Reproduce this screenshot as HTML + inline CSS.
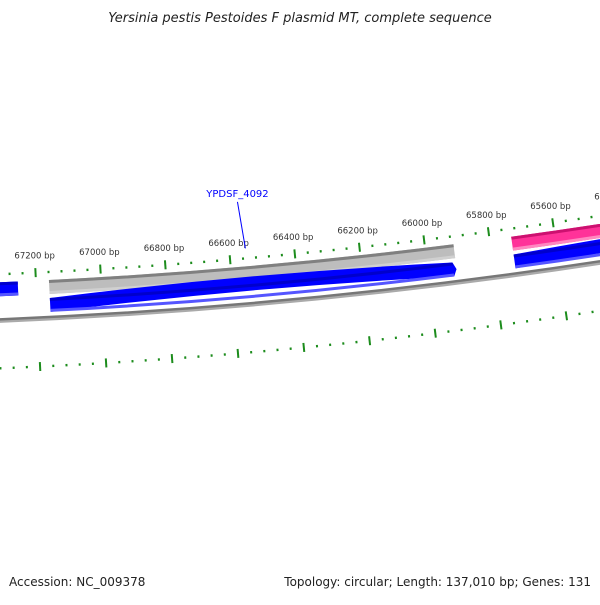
<!DOCTYPE html>
<html><head><meta charset="utf-8"><style>
body{margin:0;background:#fff;width:600px;height:600px;overflow:hidden;font-family:"Liberation Sans",sans-serif}
</style></head><body>
<svg id="map" width="600" height="600" viewBox="0 0 600 600" xmlns="http://www.w3.org/2000/svg">
<text x="300" y="22" text-anchor="middle" font-size="13" font-style="italic" fill="#222" font-family="DejaVu Sans, sans-serif">Yersinia pestis Pestoides F plasmid MT, complete sequence</text>
<g id="plot"></g>
<text x="9" y="586" font-size="12" fill="#222" font-family="DejaVu Sans, sans-serif">Accession: NC_009378</text>
<text x="591" y="586" text-anchor="end" font-size="12" fill="#222" font-family="DejaVu Sans, sans-serif">Topology: circular; Length: 137,010 bp; Genes: 131</text>
</svg>
<script>
const tickStart = 65200;
const tickEnd = 67600;
const tickStep = 40;
const majorStep = 200;
const featStarts = [67256, 65912, 65912, 64900, 64900];
const featEnds = [68400, 67160, 67160, 65733, 65733];
const featStrands = [1, 1, -1, 1, -1];
const featColors = ['blue', 'gray', 'blue', 'pink', 'blue'];
const featNames = ['feature-left-forward', 'feature-gray-forward', 'ypdsf-4092-gene', 'feature-pink-forward', 'feature-right-reverse'];
const calloutBp = 66550;
const calloutText = 'YPDSF_4092';

const NS = 'http://www.w3.org/2000/svg';
const plot = document.getElementById('plot');
const CX = -228, CY = -5171, R = 5450;
const K = 5.963e-5, TH0 = 0.08415, BP0 = 66600;
function ang(bp){ return TH0 - (bp - BP0) * K; }
function pt(bp, r){ const t = ang(bp); return [CX + r*Math.sin(t), CY + r*Math.cos(t)]; }
function mk(tag, attrs){ const e = document.createElementNS(NS, tag); for (const k in attrs) e.setAttribute(k, attrs[k]); plot.appendChild(e); return e; }
function band(b1, b2, r1, r2){
  const p1 = pt(b1, r1), p2 = pt(b2, r1), p3 = pt(b2, r2), p4 = pt(b1, r2);
  return `M${p1[0]},${p1[1]} A${r1},${r1} 0 0 0 ${p2[0]},${p2[1]} L${p3[0]},${p3[1]} A${r2},${r2} 0 0 1 ${p4[0]},${p4[1]} Z`;
}
function arc(b1, b2, r){ const p1 = pt(b1, r), p2 = pt(b2, r); return `M${p1[0]},${p1[1]} A${r},${r} 0 0 0 ${p2[0]},${p2[1]}`; }

// backbone
let bb = mk('path', {d: arc(68400, 64800, R+47), stroke: '#aaa', 'stroke-width': 3, fill: 'none'});


bb = mk('path', {d: arc(68400, 64800, R+45), stroke: '#777', 'stroke-width': 2.5, fill: 'none'});



const pal = {blue: ['#0000cc', '#0000ff', '#5555ff'], gray: ['#808080', '#bdbdbd', '#d0d0d0'], pink: ['#cc1170', '#ff3399', '#ff88c0']};
for (let i = 0; i < featStarts.length; i++){
  const r1 = featStrands[i] > 0 ? R+8 : R+26;
  const r2 = r1 + 14;
  const c = pal[featColors[i]];
  const g = mk('g', {});
  
  
  let s = featStarts[i], e = featEnds[i];
  let p;
  if (featStrands[i] < 0){
    // arrow at low-bp end (right side)
    const tip = pt(s, r1 + 7), a1 = pt(s + 10, r1), a2 = pt(s + 10, r2);
    const q1 = pt(s+10, r1), q2 = pt(e, r1), q3 = pt(e, r2), q4 = pt(s+10, r2);
    p = `M${q2[0]},${q2[1]} A${r1},${r1} 0 0 1 ${q1[0]},${q1[1]} L${tip[0]},${tip[1]} L${q4[0]},${q4[1]} A${r2},${r2} 0 0 0 ${q3[0]},${q3[1]} Z`;
  } else {
    p = band(e, s, r1, r2);
  }
  const main = document.createElementNS(NS, 'path');
  main.setAttribute('d', p); main.setAttribute('fill', c[1]);
  g.appendChild(main);
  plot.appendChild(g);
  const top = document.createElementNS(NS, 'path');
  top.setAttribute('d', arc(e, Math.max(s, s + (featStrands[i] < 0 ? 10 : 0)), r1 + 1.5));
  top.setAttribute('stroke', c[0]); top.setAttribute('stroke-width', 3); top.setAttribute('fill', 'none');
  g.appendChild(top);
  const bot = document.createElementNS(NS, 'path');
  bot.setAttribute('d', arc(e, s + (featStrands[i] < 0 ? 10 : 0), r2 - 1.5));
  bot.setAttribute('stroke', c[2]); bot.setAttribute('stroke-width', 3); bot.setAttribute('fill', 'none');
  g.appendChild(bot);
}

// ticks: inner ring (with labels) and outer ring
for (let bp = tickStart; bp <= tickEnd; bp += tickStep){
  const major = bp % majorStep === 0;
  const h = major ? 4.5 : 1.2;
  for (const rr of [R, R + 94]){
    const a = pt(bp, rr - h), b = pt(bp, rr + h);
    const t = mk('line', {x1: a[0], y1: a[1], x2: b[0], y2: b[1], stroke: '#1c8c1c', 'stroke-width': 2});
    
    
  }
  if (major){
    const lp = pt(bp, R - 17);
    const tx = mk('text', {x: lp[0], y: lp[1] + 3, 'text-anchor': 'middle', 'font-size': 8.5, fill: '#333', 'font-family': 'DejaVu Sans, sans-serif'});
    
    
    tx.textContent = bp + ' bp';
  }
}

// callout
const c1 = pt(calloutBp, R - 10), c2 = pt(calloutBp + 12, R - 57);
const cl = mk('line', {x1: c1[0], y1: c1[1], x2: c2[0], y2: c2[1], stroke: '#0000ff', 'stroke-width': 1});


const ct = mk('text', {x: c2[0], y: c2[1] - 5, 'text-anchor': 'middle', 'font-size': 10, fill: '#0000ff', 'font-family': 'DejaVu Sans, sans-serif'});


ct.textContent = calloutText;
</script>
</body></html>
